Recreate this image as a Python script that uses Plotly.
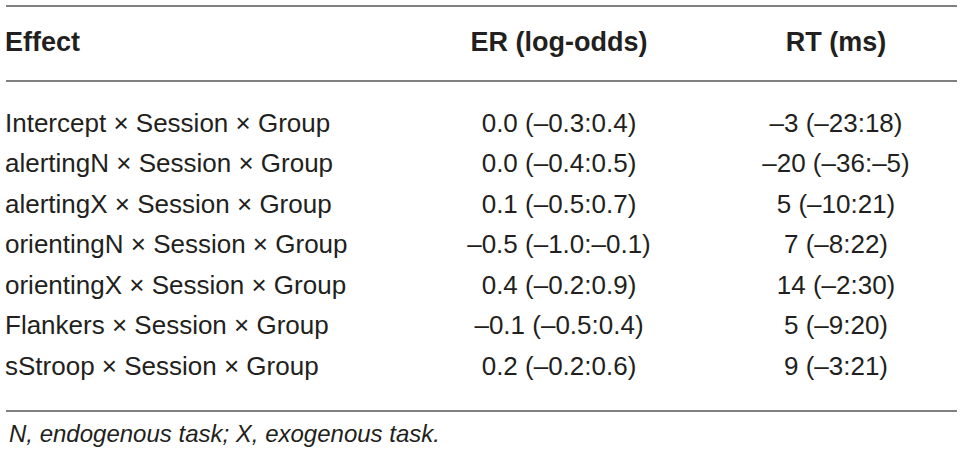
import plotly.graph_objects as go

# ---- data ----
headers = ["Effect", "ER (log-odds)", "RT (ms)"]
effects = [
    "Intercept × Session × Group",
    "alertingN × Session × Group",
    "alertingX × Session × Group",
    "orientingN × Session × Group",
    "orientingX × Session × Group",
    "Flankers × Session × Group",
    "sStroop × Session × Group",
]
er_logodds = [
    "0.0 (–0.3:0.4)",
    "0.0 (–0.4:0.5)",
    "0.1 (–0.5:0.7)",
    "–0.5 (–1.0:–0.1)",
    "0.4 (–0.2:0.9)",
    "–0.1 (–0.5:0.4)",
    "0.2 (–0.2:0.6)",
]
rt_ms = [
    "–3 (–23:18)",
    "–20 (–36:–5)",
    "5 (–10:21)",
    "7 (–8:22)",
    "14 (–2:30)",
    "5 (–9:20)",
    "9 (–3:21)",
]
footnote = "N, endogenous task; X, exogenous task."

# ---- layout constants (pixel space) ----
W, H = 974, 462
X_EFFECT, X_ER, X_RT = 5, 559, 836
Y_HEADER = 44
ROW0, ROW_H = 125, 40.5
LINE_X0, LINE_X1 = 6, 957
Y_TOP, Y_HEAD_LINE, Y_BOTTOM = 6, 81, 411
Y_FOOT = 433
TEXT = "#231f20"
FONT = "Liberation Sans, Arial, Helvetica, sans-serif"
FS = 26
FS_HEAD = 27

rows_y = [ROW0 + i * ROW_H for i in range(len(effects))]

fig = go.Figure()

# header
fig.add_trace(go.Scatter(
    x=[X_EFFECT], y=[Y_HEADER], mode="text", text=[headers[0]],
    textposition="middle right",
    textfont=dict(family=FONT, size=FS_HEAD, color=TEXT, weight="bold"),
    hoverinfo="skip", showlegend=False))
fig.add_trace(go.Scatter(
    x=[X_ER, X_RT], y=[Y_HEADER, Y_HEADER], mode="text", text=headers[1:],
    textposition="middle center",
    textfont=dict(family=FONT, size=FS_HEAD, color=TEXT, weight="bold"),
    hoverinfo="skip", showlegend=False))

# body
fig.add_trace(go.Scatter(
    x=[X_EFFECT] * len(effects), y=rows_y, mode="text", text=effects,
    textposition="middle right",
    textfont=dict(family=FONT, size=FS, color=TEXT),
    hoverinfo="skip", showlegend=False))
fig.add_trace(go.Scatter(
    x=[X_ER] * len(er_logodds), y=rows_y, mode="text", text=er_logodds,
    textposition="middle center",
    textfont=dict(family=FONT, size=FS, color=TEXT),
    hoverinfo="skip", showlegend=False))
fig.add_trace(go.Scatter(
    x=[X_RT] * len(rt_ms), y=rows_y, mode="text", text=rt_ms,
    textposition="middle center",
    textfont=dict(family=FONT, size=FS, color=TEXT),
    hoverinfo="skip", showlegend=False))

# rules
for yy in (Y_TOP, Y_HEAD_LINE, Y_BOTTOM):
    fig.add_shape(type="line", x0=LINE_X0, x1=LINE_X1, y0=yy, y1=yy,
                  xref="x", yref="y", line=dict(color="#808080", width=2))

# footnote
fig.add_annotation(x=X_EFFECT + 2, y=Y_FOOT, xref="x", yref="y",
                   text=footnote, showarrow=False, xanchor="left", yanchor="middle",
                   font=dict(family=FONT, size=24, color=TEXT, style="italic"))

fig.update_layout(
    width=W, height=H, margin=dict(l=0, r=0, t=0, b=0),
    paper_bgcolor="white", plot_bgcolor="white",
    xaxis=dict(range=[0, W], visible=False, fixedrange=True),
    yaxis=dict(range=[H, 0], visible=False, fixedrange=True),
)

fig.write_html(
    "out.html",
    config={"displayModeBar": False},
    post_script="document.body.style.margin='0';document.body.style.overflow='hidden';",
)
